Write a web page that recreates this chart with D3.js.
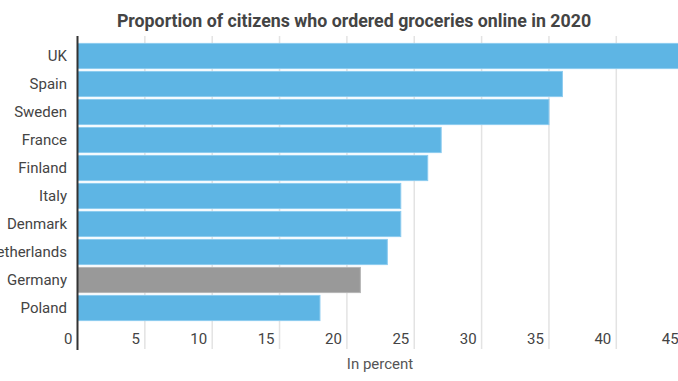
<!DOCTYPE html>
<html>
<head>
<meta charset="utf-8">
<script src="https://cdn.jsdelivr.net/npm/d3@7"></script>
<style>
  body { margin: 0; background: #fff; }
  svg { display: block; font-family: Roboto, sans-serif; }
</style>
</head>
<body>
<div id="chart"></div>
<script>
// data
var countries = ["UK", "Spain", "Sweden", "France", "Finland", "Italy", "Denmark", "Netherlands", "Germany", "Poland"];
var shares = [47, 36, 35, 27, 26, 24, 24, 23, 21, 18];
var highlight = "Germany";
var xTicks = [0, 5, 10, 15, 20, 25, 30, 35, 40, 45];

var width = 678, height = 381;
var margin = {top: 42, right: -5, bottom: 59, left: 77.5};

var svg = d3.select("#chart").append("svg")
    .attr("width", width)
    .attr("height", height);

// x scale: 0 -> 77.5, 5 units ~ 67.3px
var x = d3.scaleLinear()
    .domain([0, 45])
    .range([margin.left, margin.left + 45 * 13.47]);

var y = d3.scaleBand()
    .domain(countries)
    .range([margin.top, height - margin.bottom])
    .paddingInner(0.1)
    .paddingOuter(0.05);

// gridlines
svg.append("g").selectAll("line")
    .data(xTicks.slice(1))
    .enter().append("line")
    .attr("x1", function(d) { return x(d); })
    .attr("x2", function(d) { return x(d); })
    .attr("y1", 36)
    .attr("y2", 349)
    .attr("stroke", "#e3e3e3")
    .attr("stroke-width", 1.5);

// bars
svg.append("g").selectAll("rect")
    .data(countries)
    .enter().append("rect")
    .attr("x", x(0))
    .attr("y", function(d) { return y(d); })
    .attr("width", function(d, i) { return x(shares[i]) - x(0); })
    .attr("height", y.bandwidth())
    .attr("fill", function(d) { return d == highlight ? "#999999" : "#5eb5e4"; })
    .attr("stroke", function(d) { return d == highlight ? "#b5b5b5" : "#8ccbef"; })
    .attr("stroke-width", 1);

// country labels
svg.append("g").selectAll("text")
    .data(countries)
    .enter().append("text")
    .attr("x", 67)
    .attr("y", function(d) { return y(d) + y.bandwidth() / 2; })
    .attr("dy", "0.35em")
    .attr("text-anchor", "end")
    .attr("font-size", 15)
    .attr("fill", "#444")
    .text(function(d) { return d; });

// tick labels
svg.append("g").selectAll("text")
    .data(xTicks)
    .enter().append("text")
    .attr("x", function(d) { return x(d) - 5; })
    .attr("y", 339)
    .attr("dy", "0.35em")
    .attr("text-anchor", "end")
    .attr("font-size", 15)
    .attr("fill", "#444")
    .text(function(d) { return d; });

// axis line
svg.append("line")
    .attr("x1", x(0)).attr("x2", x(0))
    .attr("y1", 36).attr("y2", 350)
    .attr("stroke", "#333")
    .attr("stroke-width", 2);

// axis title
svg.append("text")
    .attr("x", 380)
    .attr("y", 364)
    .attr("dy", "0.35em")
    .attr("text-anchor", "middle")
    .attr("font-size", 15)
    .attr("fill", "#555")
    .text("In percent");

// chart title
svg.append("text")
    .attr("x", 354)
    .attr("y", 21)
    .attr("dy", "0.35em")
    .attr("text-anchor", "middle")
    .attr("font-size", 17.8)
    .attr("font-weight", "bold")
    .attr("fill", "#444")
    .text("Proportion of citizens who ordered groceries online in 2020");
</script>
</body>
</html>
